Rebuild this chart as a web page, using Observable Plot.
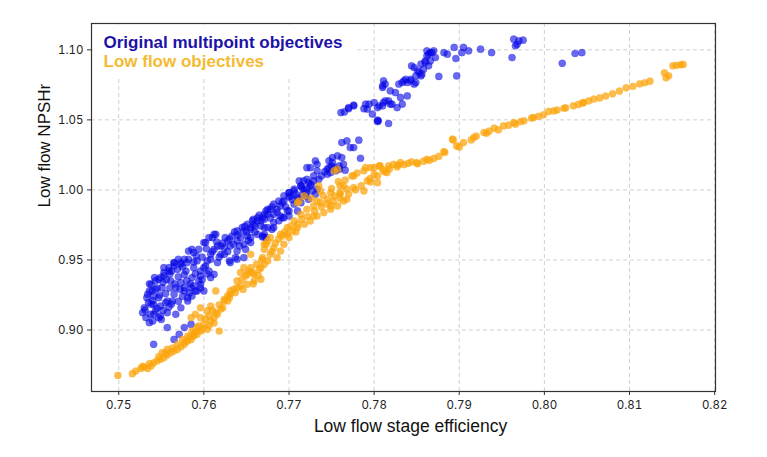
<!DOCTYPE html>
<html><head><meta charset="utf-8">
<script src="https://cdn.jsdelivr.net/npm/d3@7"></script>
<script src="https://cdn.jsdelivr.net/npm/@observablehq/plot@0.6"></script>
<style>body{margin:0;background:#fff}</style>
</head><body><div id="chart"></div>
<script>
const xTicks = [0.75,0.76,0.77,0.78,0.79,0.80,0.81,0.82];
const yTicks = [0.90,0.95,1.00,1.05,1.10];
const seriesNames = ["Original multipoint objectives","Low flow objectives"];

const blueX = [0.7975,0.797,0.7964,0.7968,0.7966,0.7962,0.7938,0.7925,0.7911,0.7905,0.7903,0.7897,0.7896,0.7894,0.7886,0.7882,0.7876,0.787,0.7866,0.7872,0.7866,0.7864,0.7862,0.786,0.7864,0.7858,0.7856,0.7855,0.7851,0.7853,0.7847,0.7844,0.7855,0.786,0.7868,0.7862,0.7849,0.7843,0.7847,0.7849,0.7839,0.7837,0.7833,0.7829,0.7835,0.7839,0.7843,0.7825,0.7819,0.781,0.7813,0.7811,0.781,0.7831,0.7833,0.7827,0.7819,0.7821,0.7817,0.7811,0.7806,0.78,0.779,0.7792,0.7798,0.7804,0.7804,0.7817,0.7813,0.781,0.7805,0.7804,0.7794,0.7788,0.7776,0.777,0.7765,0.7761,0.7776,0.777,0.8021,0.8036,0.8044,
0.7782,0.7776,0.7772,0.7768,0.7762,0.7784,0.7764,0.7759,0.7753,0.7745,0.7747,0.7751,0.7757,0.7762,0.7751,0.7747,0.7749,0.7755,0.7759,0.7766,0.7745,0.7733,0.7731,0.7725,0.7733,0.7721,0.7717,0.7712,0.7723,0.7729,0.7735,0.7715,0.7721,0.7727,0.7733,0.7706,0.77,0.7702,0.771,0.772,0.7714,0.7723,0.7694,0.769,0.7686,0.7678,0.7682,0.7675,0.7671,0.769,0.7694,0.77,0.771,0.7663,0.7659,0.7667,0.7655,0.7647,0.7651,0.7643,0.7639,0.7635,0.7671,0.7682,0.768,0.7675,0.7669,0.7673,0.7706,0.7712,0.772,0.7714,0.7729,0.7725,0.7731,
0.7528,0.7532,0.7536,0.753,0.7538,0.7543,0.7547,0.7541,0.7549,0.7557,0.7567,0.7573,0.7581,0.7586,0.7592,0.76,0.7596,0.7577,0.7565,0.7557,0.7549,0.7541,0.7538,0.7539,0.7543,0.7549,0.7553,0.7559,0.7565,0.7569,0.7551,0.7563,0.7555,0.7547,0.7561,0.7567,0.7573,0.7577,0.7581,0.7585,0.7586,0.7579,0.7573,0.7582,0.7588,0.7592,0.7596,0.7594,0.759,0.7586,0.7582,0.7594,0.76,0.7604,0.7608,0.7612,0.7616,0.761,0.7614,0.7602,0.762,0.7624,0.763,0.7637,0.7647,0.7639,0.7628,0.7633,0.7639,0.7645,0.7651,0.7657,0.7663,0.7671,0.7675,0.7682,0.7688,0.7694,0.77,0.7706,0.7714,0.7721,0.7647,0.7655,0.7663,0.7671,0.7669,0.7682,0.7692,0.77,0.7608,0.7585,0.7557,0.7571,0.7565,0.7541,0.7577,0.7534,
0.76,0.7606,0.7612,0.7588,0.7577,0.7573,0.7565,0.7559,0.7553,0.7547,0.7536,0.7543,0.7541,0.7596,0.7602,0.7612,0.7631,0.7639,0.7649,0.7655,0.7669,0.7655,0.7631,0.7624,0.762,0.7616,0.7608,
0.7531,0.7535,0.7533,0.7537,0.7545,0.7552,0.7559,0.7562,0.757,0.7575,0.7583,0.7588,0.7598,0.7604,0.759,0.758,0.757,0.756,0.7552,0.7545,0.7555,0.7566,0.7577,0.7588,0.7598,0.761,0.7622,0.763,0.764,0.765,0.766,0.7667,0.7678,0.7686,0.7696,0.7704,0.7716,0.7698,0.7688,0.754,0.755,
0.7536,0.7542,0.7553,0.7565,0.757,0.7556,0.7562,0.7575,0.758,0.7591,0.7603,0.7615,0.7625,0.7636,0.7648,0.7658,0.7665,0.7673,0.768,0.7692,0.77,0.7708,0.7718,0.7726,0.7738,0.7742,0.775,0.754,0.7548,0.756,0.7572,0.7584,0.7596,0.7606,0.7618,0.7628,0.7642,0.7652,0.766];
const blueY = [1.1069,1.1064,1.1076,1.104,1.1029,1.0945,1.098,1.1005,1.0993,1.1017,1.098,1.0814,1.0938,1.1017,1.0969,1.098,1.081,1.0993,1.098,1.0945,1.0921,1.0969,1.0957,1.091,1.0886,1.0862,1.0826,1.0814,1.085,1.0838,1.0874,1.0885,1.0898,1.0921,1.098,1.0993,1.0767,1.0779,1.0755,1.0814,1.0671,1.079,1.0767,1.0755,1.0779,1.0767,1.079,1.0695,1.0707,1.0731,1.0755,1.0779,1.0743,1.066,1.0612,1.0588,1.0612,1.0612,1.0636,1.0624,1.06,1.0624,1.0612,1.0576,1.0541,1.0498,1.0488,1.0474,1.0636,1.06,1.0493,1.0588,1.0612,1.058,1.0605,1.058,1.0557,1.0552,1.06,1.0588,1.0904,1.0974,1.098,
1.0355,1.0302,1.0302,1.035,1.0338,1.0226,1.0183,1.0148,1.0159,1.0148,1.0207,1.0231,1.0243,1.0231,1.0195,1.0159,1.0124,1.0136,1.0171,1.0141,1.0112,1.0183,1.0207,1.0159,1.0136,1.0159,1.0064,1.0064,1.0052,1.0064,1.0076,1.0017,1.0005,0.9993,1.0005,0.9993,0.998,0.9957,0.9945,0.9957,0.9909,0.9933,0.9921,0.9886,0.9862,0.9862,0.9826,0.9826,0.9791,0.9814,0.9802,0.9814,0.985,0.9779,0.9755,0.9743,0.9719,0.9707,0.9671,0.9659,0.9636,0.9612,0.9683,0.9767,0.9719,0.9731,0.9664,0.9659,0.9898,0.9933,0.998,1.0029,1.01,1.0029,0.9969,
0.9124,0.9088,0.9052,0.9159,0.9183,0.9136,0.9088,0.9112,0.91,0.9124,0.9112,0.9159,0.9207,0.9243,0.9279,0.9279,0.9326,0.9302,0.9255,0.9207,0.9171,0.9183,0.9326,0.9279,0.935,0.9374,0.941,0.9445,0.9481,0.9433,0.9302,0.9207,0.9195,0.9231,0.935,0.9302,0.9338,0.9279,0.9231,0.9302,0.9374,0.9421,0.9469,0.9505,0.9445,0.9493,0.9421,0.935,0.9279,0.9576,0.9564,0.9576,0.9445,0.9493,0.954,0.9576,0.96,0.9659,0.9683,0.9624,0.954,0.9588,0.9493,0.9517,0.9517,0.9564,0.9636,0.9671,0.9707,0.9731,0.9755,0.9779,0.9802,0.9826,0.9862,0.9898,0.9921,0.9957,0.998,1.0005,1.0029,1.0076,0.9612,0.9659,0.9683,0.9731,0.9671,0.9731,0.9802,0.985,0.9374,0.904,0.9017,0.8969,0.8933,0.8898,0.9017,0.9255,
0.9624,0.9659,0.9683,0.9552,0.9505,0.9481,0.9457,0.9421,0.9386,0.9362,0.9279,0.9291,0.9243,0.9386,0.9457,0.9398,0.9481,0.9505,0.9576,0.9624,0.9802,0.9731,0.96,0.954,0.96,0.9481,0.9505,
0.9143,0.9195,0.9231,0.9112,0.9155,0.914,0.9165,0.9185,0.9205,0.924,0.9265,0.9315,0.936,0.94,0.94,0.935,0.938,0.94,0.934,0.93,0.926,0.933,0.9395,0.9485,0.952,0.956,0.962,0.965,0.968,0.97,0.974,0.978,0.98,0.984,0.988,0.993,0.997,0.985,0.978,0.9065,0.9075,
0.933,0.9374,0.9445,0.948,0.9505,0.936,0.942,0.945,0.948,0.953,0.958,0.963,0.966,0.97,0.974,0.979,0.982,0.985,0.988,0.991,0.995,0.997,1.0,1.004,1.01,1.013,1.017,0.921,0.925,0.93,0.929,0.933,0.93,0.942,0.952,0.956,0.96,0.964,0.97];

const orangeX = [0.7499,0.7516,0.752,0.7526,0.753,0.7534,0.7538,0.7541,0.7545,0.7549,0.7553,0.7557,0.7561,0.7565,0.7569,0.7573,0.7577,0.7581,0.7585,0.7588,0.7592,0.7596,0.7569,0.7575,0.7581,0.7586,0.7592,0.76,0.7604,0.7585,0.759,0.7596,0.7608,0.7614,0.7612,0.7618,0.7616,0.7622,0.7628,0.7596,0.7604,0.7557,0.7551,0.7608,0.7614,0.7598,0.7588,0.7624,0.7631,0.7639,0.7651,0.7655,0.7659,0.7667,0.7675,0.7678,0.7682,0.7686,0.769,0.7694,0.7692,0.7698,0.7704,0.771,0.7718,0.7725,0.7733,0.7741,0.7749,0.7757,0.7764,0.7673,0.7678,0.7698,0.7706,0.7714,0.7721,0.7729,0.7737,0.7745,0.7753,0.776,0.7768,0.771,0.7718,0.7735,0.7712,0.7737,
0.7655,0.7647,0.7643,0.7649,0.7657,0.7665,0.7671,0.7639,0.7643,0.7651,0.7659,0.7667,0.7631,0.7637,0.7624,0.763,0.7671,0.7675,0.7669,
0.7753,0.7733,0.7749,0.7764,0.7776,0.7788,0.78,0.7806,0.7671,0.769,0.771,0.7729,0.7749,0.7768,0.7788,0.7804,
0.7757,0.7774,0.7796,0.7807,0.7817,0.7823,0.7831,0.785,0.7862,0.7882,0.7892,0.7897,0.7905,0.7917,0.7929,0.7941,0.7952,0.7964,0.7976,0.7987,0.7999,0.8011,0.8023,0.8034,0.8046,0.8058,0.776,0.7776,0.7792,0.7804,0.7815,0.776,
0.7796,0.7812,0.7827,0.7835,0.7851,0.7865,0.7883,0.7893,0.79,0.7914,0.7932,0.7946,0.7966,0.7985,0.8005,0.8025,0.8045,0.8065,0.808,0.8096,0.8112,0.8124,0.8141,0.8143,0.8151,0.8163,
0.8072,0.8088,0.8104,0.8118,0.8155,0.816,0.8146,0.792,0.7935,0.7958,0.7972,0.7993,0.8015,0.804,0.8052,
0.7628,0.7635,0.7645,0.7653,0.7662,0.7668,0.7664,0.7658,0.7646,0.768,0.7684,0.7688,0.7695,0.7702,0.77,0.7708,0.7715,0.7722,0.773,0.7738,0.7745,0.7752,0.776,0.777,0.7778,0.7785,0.7795,0.78,0.781,0.774,0.7726,0.775,0.7758,0.7766,0.778,0.779,0.7818,0.7828,0.784,0.7844,0.7858,0.787,0.7876,
0.7578,0.7583,0.759,0.7594,0.7602,0.7606,0.761,0.7618,0.762,0.7612,0.7606,0.7563,0.7547,0.7555,0.7536,0.7528];
const orangeY = [0.8676,0.8688,0.8707,0.8726,0.8736,0.8726,0.8743,0.8766,0.8779,0.8791,0.8802,0.8821,0.8838,0.885,0.8862,0.8879,0.8898,0.8921,0.8933,0.8957,0.8969,0.8993,0.8898,0.8933,0.8957,0.8993,0.9017,0.904,0.9005,0.9088,0.9112,0.9088,0.9064,0.9279,0.9088,0.8993,0.9112,0.9159,0.9207,0.9159,0.9136,0.8862,0.8838,0.9171,0.9124,0.9005,0.8969,0.9207,0.9255,0.9302,0.9398,0.9445,0.9398,0.9445,0.9493,0.954,0.9588,0.9517,0.9564,0.9612,0.9671,0.9683,0.9707,0.9731,0.9755,0.9779,0.9814,0.9838,0.9862,0.9886,0.9921,0.9612,0.9659,0.9731,0.9779,0.9826,0.9862,0.9886,0.9909,0.9933,0.9957,0.998,1.0005,0.9909,0.9957,1.0029,0.9921,0.9993,
0.954,0.9445,0.941,0.9386,0.941,0.9433,0.9469,0.935,0.9314,0.9326,0.935,0.9362,0.9279,0.9267,0.9219,0.9231,0.9576,0.9636,0.9517,
1.0136,0.9921,0.998,1.0029,1.01,1.0136,1.0159,1.0171,0.9612,0.9683,0.9755,0.9814,0.9886,0.9933,0.9993,1.0052,
1.0148,1.01,1.0159,1.0171,1.0171,1.0183,1.0195,1.0195,1.0219,1.0274,1.0362,1.0314,1.0338,1.0374,1.041,1.0441,1.0457,1.0481,1.0493,1.0517,1.0536,1.0564,1.0583,1.06,1.0624,1.0648,0.9969,1.0017,1.0064,1.01,1.0124,1.0029,
1.0057,1.0129,1.0164,1.018,1.0186,1.0211,1.0267,1.0357,1.0307,1.0357,1.0404,1.0429,1.0469,1.0512,1.056,1.0586,1.0621,1.0657,1.0686,1.0729,1.0757,1.0776,1.0836,1.08,1.0886,1.0896,
1.067,1.0705,1.074,1.0765,1.089,1.0893,1.0815,1.0385,1.042,1.0462,1.0488,1.0525,1.057,1.061,1.0636,
0.9245,0.929,0.936,0.942,0.947,0.95,0.939,0.933,0.929,0.956,0.962,0.965,0.97,0.974,0.966,0.97,0.979,0.981,0.985,0.988,0.99,0.992,0.994,0.997,1.0,1.003,1.008,1.011,1.0145,0.996,0.994,1.001,1.006,1.007,1.012,1.016,1.015,1.0178,1.019,1.02,1.0205,1.0225,1.024,
0.8915,0.8945,0.8985,0.903,0.908,0.91,0.914,0.918,0.915,0.905,0.903,0.887,0.881,0.8835,0.876,0.874];

const blue = blueX.map((x,i)=>({x, y: blueY[i]}));
const orange = orangeX.map((x,i)=>({x, y: orangeY[i]}));

const tickFont = "Inter, 'Noto Sans', sans-serif";
const titleFont = "'Liberation Sans', Arial, sans-serif";
const plot = Plot.plot({
  width: 767, height: 457,
  marginLeft: 91, marginRight: 52, marginTop: 23, marginBottom: 66,
  style: {fontFamily: tickFont, background: "#fff", overflow: "visible"},
  x: {domain: [0.7468, 0.8201]},
  y: {domain: [0.8561, 1.1188]},
  marks: [
    Plot.gridX(xTicks, {stroke: "#c4c4c4", strokeOpacity: 1, strokeDasharray: "4,3", strokeWidth: 0.8}),
    Plot.gridY(yTicks, {stroke: "#c4c4c4", strokeOpacity: 1, strokeDasharray: "4,3", strokeWidth: 0.8}),
    Plot.frame({fill: "#fff", stroke: null, insetLeft: 1, insetTop: 1, insetRight: 358, insetBottom: 314}),
    Plot.dot(blue, {x: "x", y: "y", r: 3.6, fill: "#0505e6", fillOpacity: 0.6, stroke: "#0505e6", strokeOpacity: 0.3, strokeWidth: 0.6}),
    Plot.dot(orange, {x: "x", y: "y", r: 3.6, fill: "#fba40a", fillOpacity: 0.72, stroke: "#fba40a", strokeOpacity: 0.3, strokeWidth: 0.6}),
    Plot.axisX(xTicks, {tickFormat: d3.format(".2f"), tickSize: 4, tickPadding: 5, fontSize: 11.5, label: null, stroke: "#333", fill: "#222"}),
    Plot.axisY(yTicks, {tickFormat: d3.format(".2f"), tickSize: 4, tickPadding: 4, fontSize: 11.5, label: null, stroke: "#333", fill: "#222"}),
    Plot.frame({stroke: "#333", strokeWidth: 1.2}),
    Plot.text(["Low flow stage efficiency"], {frameAnchor: "bottom", dx: 7, dy: 40, lineAnchor: "bottom", fontSize: 17.5, fontFamily: titleFont, fill: "#111"}),
    Plot.text(["Low flow NPSHr"], {frameAnchor: "left", dx: -47, rotate: -90, fontSize: 17, fontFamily: titleFont, fill: "#111"}),
    Plot.text([seriesNames[0]], {frameAnchor: "top-left", dx: 12, dy: 24, lineAnchor: "bottom", textAnchor: "start", fontSize: 17, fontWeight: "bold", fontFamily: titleFont, fill: "#1c12a8"}),
    Plot.text([seriesNames[1]], {frameAnchor: "top-left", dx: 12, dy: 43.5, lineAnchor: "bottom", textAnchor: "start", fontSize: 17, fontWeight: "bold", fontFamily: titleFont, fill: "#f3bb33"})
  ]
});
document.getElementById("chart").appendChild(plot);
</script>
</body></html>
